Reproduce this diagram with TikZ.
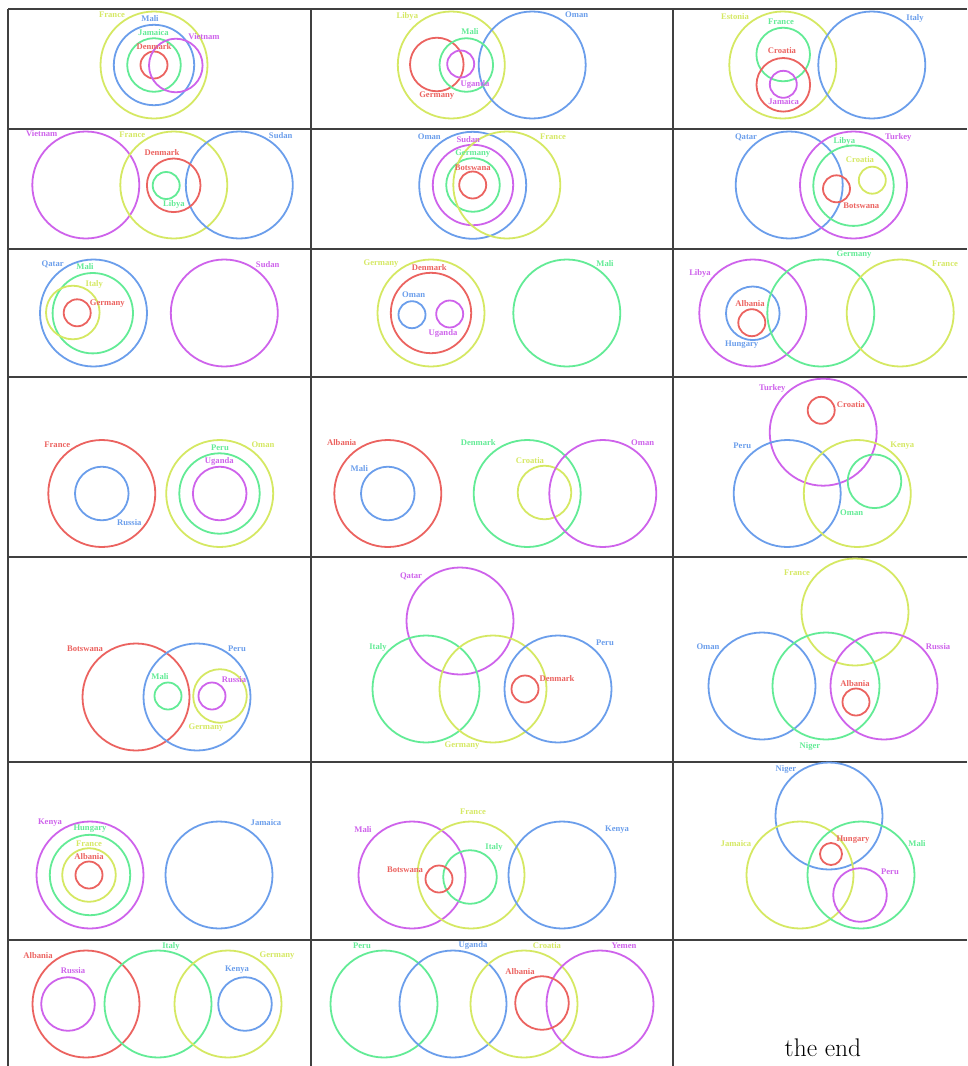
\documentclass[tikz,border=0pt]{standalone}
\usepackage{fontspec}
\newfontfamily\labfont{Liberation Serif}
\definecolor{cR}{RGB}{235,99,96}
\definecolor{cB}{RGB}{107,158,235}
\definecolor{cG}{RGB}{99,235,150}
\definecolor{cY}{RGB}{213,232,99}
\definecolor{cP}{RGB}{206,99,235}
\newcommand\vcirc[4]{\draw[venn,#1] (#2,#3) circle[radius=#4];}
\newcommand\vlab[4]{\node[lab,text=#1] at (#2,#3) {#4};}
\begin{document}
\begin{tikzpicture}[x=1pt,y=-1pt,
  venn/.style={line width=1.8pt},
  lab/.style={inner sep=0pt,font=\labfont\bfseries\fontsize{8.6}{10}\selectfont},
  grid/.style={line width=1.1pt,draw=black!75}]
\useasboundingbox (0,0) rectangle (967,1066);
% grid
\draw[grid] (8,9) -- (967,9);
\foreach \yy in {129,249,377,557,762,940} {\draw[grid] (8,\yy) -- (967,\yy);}
\foreach \xx in {8,311,673} {\draw[grid] (\xx,9) -- (\xx,1066);}
% ---- row 1
\vcirc{cY}{154}{65}{53.5}\vcirc{cB}{154}{65}{40.2}\vcirc{cG}{154}{65}{26.8}\vcirc{cR}{154}{65}{13.5}\vcirc{cP}{175.8}{65.5}{26.8}
\vlab{cY}{112}{14.5}{France}\vlab{cB}{150}{19}{Mali}\vlab{cG}{153.5}{32.3}{Jamaica}\vlab{cR}{154}{47}{Denmark}\vlab{cP}{204}{37}{Vietnam}
\vcirc{cY}{451.3}{65}{53.5}\vcirc{cB}{532.2}{65}{53.5}\vcirc{cR}{436.8}{64.5}{26.8}\vcirc{cG}{466.3}{65}{26.8}\vcirc{cP}{460.7}{64}{13.5}
\vlab{cY}{407.3}{16}{Libya}\vlab{cB}{576.7}{15}{Oman}\vlab{cG}{470}{32}{Mali}\vlab{cP}{475}{84}{Uganda}\vlab{cR}{436.7}{95.7}{Germany}
\vcirc{cY}{782.8}{65}{53.5}\vcirc{cB}{871.8}{65}{53.5}\vcirc{cG}{783.2}{54.5}{26.8}\vcirc{cR}{783.3}{84.8}{26.8}\vcirc{cP}{783.3}{84.3}{13.5}
\vlab{cY}{735}{17}{Estonia}\vlab{cG}{781}{21.3}{France}\vlab{cR}{782}{51}{Croatia}\vlab{cP}{783.7}{101.7}{Jamaica}\vlab{cB}{915}{18}{Italy}
% ---- row 2
\vcirc{cP}{85.8}{185}{53.5}\vcirc{cY}{173.8}{185}{53.5}\vcirc{cB}{239.3}{185}{53.5}\vcirc{cR}{173.7}{185.3}{26.8}\vcirc{cG}{166.2}{185.5}{13.5}
\vlab{cP}{41.7}{134}{Vietnam}\vlab{cY}{132.3}{135}{France}\vlab{cB}{280.7}{135.3}{Sudan}\vlab{cR}{162}{153}{Denmark}\vlab{cG}{174}{204.7}{Libya}
\vcirc{cB}{472.7}{185.3}{53.5}\vcirc{cP}{473}{185}{40.2}\vcirc{cG}{473}{185}{26.8}\vcirc{cR}{472.7}{185}{13.5}\vcirc{cY}{506.8}{185}{53.5}
\vlab{cB}{429.3}{136.3}{Oman}\vlab{cP}{468.3}{139.3}{Sudan}\vlab{cG}{472.7}{153.3}{Germany}\vlab{cR}{472.7}{167.3}{Botswana}\vlab{cY}{553}{136.3}{France}
\vcirc{cB}{789.2}{185}{53.5}\vcirc{cP}{853.5}{185}{53.5}\vcirc{cG}{853.5}{185.7}{40.2}\vcirc{cY}{872.3}{180.2}{13.5}\vcirc{cR}{836.5}{188.8}{13.5}
\vlab{cB}{746}{137.7}{Qatar}\vlab{cG}{844.3}{141}{Libya}\vlab{cP}{898.3}{137.7}{Turkey}\vlab{cY}{860}{160}{Croatia}\vlab{cR}{861.3}{206}{Botswana}
% ---- row 3
\vcirc{cB}{93.5}{313}{53.5}\vcirc{cG}{92.8}{313.2}{40.2}\vcirc{cY}{72.8}{312.5}{26.8}\vcirc{cR}{77.2}{312.8}{13.5}\vcirc{cP}{224.3}{313}{53.5}
\vlab{cB}{52.7}{264}{Qatar}\vlab{cG}{85}{267}{Mali}\vlab{cY}{94.3}{284}{Italy}\vlab{cR}{107.3}{303.3}{Germany}\vlab{cP}{267.7}{265}{Sudan}
\vcirc{cY}{431}{313}{53.5}\vcirc{cR}{431}{313}{40.2}\vcirc{cB}{412}{314.7}{13.5}\vcirc{cP}{449.7}{314}{13.5}\vcirc{cG}{566.8}{313}{53.5}
\vlab{cY}{381}{264}{Germany}\vlab{cR}{429.3}{267.3}{Denmark}\vlab{cB}{413.7}{294.3}{Oman}\vlab{cP}{443}{333.3}{Uganda}\vlab{cG}{605}{264}{Mali}
\vcirc{cP}{752.8}{313}{53.5}\vcirc{cB}{752.8}{313.3}{26.8}\vcirc{cR}{751.8}{322.7}{13.5}\vcirc{cG}{820.8}{313}{53.5}\vcirc{cY}{900.2}{313}{53.5}
\vlab{cP}{700}{273.3}{Libya}\vlab{cR}{750}{303.3}{Albania}\vlab{cB}{741.7}{345}{Hungary}\vlab{cG}{854}{255}{Germany}\vlab{cY}{945}{264}{France}
% ---- row 4
\vcirc{cR}{101.8}{493.5}{53.5}\vcirc{cB}{101.8}{493.5}{26.8}\vcirc{cY}{219.7}{493.5}{53.5}\vcirc{cG}{219.5}{493.5}{40.2}\vcirc{cP}{219.7}{493.5}{26.8}
\vlab{cR}{57.3}{445}{France}\vlab{cB}{129.3}{522.3}{Russia}\vlab{cG}{220}{448}{Peru}\vlab{cY}{263}{445}{Oman}\vlab{cP}{219.3}{461.3}{Uganda}
\vcirc{cR}{387.8}{493.5}{53.5}\vcirc{cB}{387.8}{493.5}{26.8}\vcirc{cG}{527.2}{493.5}{53.5}\vcirc{cY}{544.5}{492.5}{26.8}\vcirc{cP}{602.8}{493.5}{53.5}
\vlab{cR}{341.7}{443}{Albania}\vlab{cB}{359.3}{469}{Mali}\vlab{cG}{478.3}{443}{Denmark}\vlab{cY}{530}{460.3}{Croatia}\vlab{cP}{642.7}{443}{Oman}
\vcirc{cP}{823.2}{432.2}{53.5}\vcirc{cR}{821.2}{410.3}{13.5}\vcirc{cB}{787.2}{493.5}{53.5}\vcirc{cY}{857.3}{493.5}{53.5}\vcirc{cG}{874.5}{481.3}{26.8}
\vlab{cP}{772.3}{388}{Turkey}\vlab{cR}{851}{404.3}{Croatia}\vlab{cB}{742.3}{445.7}{Peru}\vlab{cY}{902.3}{445.7}{Kenya}\vlab{cG}{851.7}{513}{Oman}
% ---- row 5
\vcirc{cR}{136}{697}{53.5}\vcirc{cB}{197}{697}{53.5}\vcirc{cG}{168}{696}{13.5}\vcirc{cY}{220}{696}{26.8}\vcirc{cP}{212}{696}{13.5}
\vlab{cR}{85}{649}{Botswana}\vlab{cB}{237}{649}{Peru}\vlab{cG}{160}{677}{Mali}\vlab{cY}{206}{728}{Germany}\vlab{cP}{234}{680}{Russia}
\vcirc{cP}{460}{621}{53.5}\vcirc{cG}{426}{689}{53.5}\vcirc{cY}{493}{689}{53.5}\vcirc{cB}{558}{689}{53.5}\vcirc{cR}{525}{689}{13.5}
\vlab{cP}{411}{576}{Qatar}\vlab{cG}{378}{647}{Italy}\vlab{cY}{462}{746}{Germany}\vlab{cB}{605}{643}{Peru}\vlab{cR}{557}{679}{Denmark}
\vcirc{cY}{855}{612}{53.5}\vcirc{cB}{762}{686}{53.5}\vcirc{cG}{826}{686}{53.5}\vcirc{cP}{884}{686}{53.5}\vcirc{cR}{856}{702}{13.5}
\vlab{cY}{797}{573}{France}\vlab{cB}{708}{647}{Oman}\vlab{cG}{810}{746}{Niger}\vlab{cP}{938}{647}{Russia}\vlab{cR}{855}{684}{Albania}
% ---- row 6
\vcirc{cP}{90}{875}{53.5}\vcirc{cG}{90}{875}{40.2}\vcirc{cY}{89}{875}{26.8}\vcirc{cR}{89}{875}{13.5}\vcirc{cB}{219}{875}{53.5}
\vlab{cP}{50}{823}{Kenya}\vlab{cG}{90}{829}{Hungary}\vlab{cY}{89}{844}{France}\vlab{cR}{89}{857}{Albania}\vlab{cB}{266}{823}{Jamaica}
\vcirc{cP}{412}{875}{53.5}\vcirc{cY}{471}{875}{53.5}\vcirc{cB}{562}{875}{53.5}\vcirc{cG}{470}{877}{26.8}\vcirc{cR}{439}{879}{13.5}
\vlab{cP}{363}{830}{Mali}\vlab{cY}{473}{812}{France}\vlab{cB}{617}{830}{Kenya}\vlab{cG}{494}{847}{Italy}\vlab{cR}{405}{870}{Botswana}
\vcirc{cB}{829}{816}{53.5}\vcirc{cY}{800}{875}{53.5}\vcirc{cG}{861}{875}{53.5}\vcirc{cR}{831}{854}{11}\vcirc{cP}{860}{895}{26.8}
\vlab{cB}{786}{769}{Niger}\vlab{cY}{736}{844}{Jamaica}\vlab{cG}{917}{844}{Mali}\vlab{cR}{853}{840}{Hungary}\vlab{cP}{890}{872}{Peru}
% ---- row 7
\vcirc{cR}{86}{1004}{53.5}\vcirc{cP}{68}{1004}{26.8}\vcirc{cG}{158}{1004}{53.5}\vcirc{cY}{228}{1004}{53.5}\vcirc{cB}{245}{1004}{26.8}
\vlab{cR}{38}{956}{Albania}\vlab{cP}{73}{971}{Russia}\vlab{cG}{171}{946}{Italy}\vlab{cY}{277}{956}{Germany}\vlab{cB}{237}{970}{Kenya}
\vcirc{cG}{384}{1004}{53.5}\vcirc{cB}{453}{1004}{53.5}\vcirc{cY}{524}{1004}{53.5}\vcirc{cP}{600}{1004}{53.5}\vcirc{cR}{542}{1003}{26.8}
\vlab{cG}{362}{946}{Peru}\vlab{cB}{473}{945}{Uganda}\vlab{cY}{547}{946}{Croatia}\vlab{cP}{624}{946}{Yemen}\vlab{cR}{520}{972}{Albania}
\node[inner sep=0pt,font=\fontsize{25.5}{28}\selectfont] (theend) at (823,1048) {the end};
\end{tikzpicture}
\end{document}
